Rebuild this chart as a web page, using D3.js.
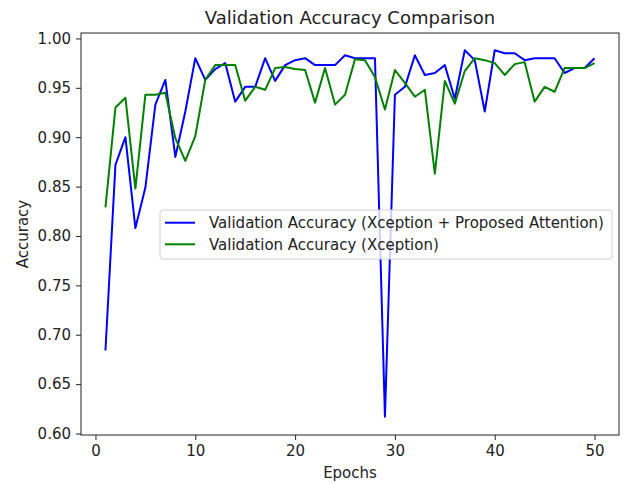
<!DOCTYPE html>
<html>
<head>
<meta charset="utf-8">
<script src="https://cdn.jsdelivr.net/npm/d3@7"></script>
<style>
  body { margin: 0; background: #fff; }
  svg { display: block; font-family: "DejaVu Sans", sans-serif; }
</style>
</head>
<body>
<div id="chart"></div>
<script>
const epochs = d3.range(1, 51);
// Xception + Proposed Attention
const attentionAcc = [
  0.684, 0.872, 0.900, 0.808, 0.849, 0.933, 0.958, 0.880, 0.926, 0.980,
  0.958, 0.969, 0.975, 0.936, 0.951, 0.951, 0.980, 0.957, 0.973, 0.978,
  0.980, 0.973, 0.973, 0.973, 0.983, 0.980, 0.980, 0.980, 0.617, 0.943,
  0.951, 0.983, 0.963, 0.965, 0.973, 0.939, 0.988, 0.978, 0.926, 0.988,
  0.985, 0.985, 0.978, 0.980, 0.980, 0.980, 0.965, 0.970, 0.970, 0.980
];
// Xception
const xceptionAcc = [
  0.829, 0.930, 0.940, 0.848, 0.943, 0.943, 0.945, 0.899, 0.876, 0.901,
  0.958, 0.973, 0.973, 0.973, 0.937, 0.951, 0.948, 0.970, 0.971, 0.969,
  0.968, 0.935, 0.970, 0.933, 0.943, 0.979, 0.978, 0.961, 0.928, 0.968,
  0.955, 0.941, 0.948, 0.863, 0.957, 0.934, 0.967, 0.980, 0.978, 0.975,
  0.963, 0.974, 0.976, 0.936, 0.951, 0.946, 0.970, 0.970, 0.970, 0.975
];
const xTicks = [0, 10, 20, 30, 40, 50];
const yTicks = [0.60, 0.65, 0.70, 0.75, 0.80, 0.85, 0.90, 0.95, 1.00];
const seriesNames = [
  "Validation Accuracy (Xception + Proposed Attention)",
  "Validation Accuracy (Xception)"
];
const seriesColors = ["#0000ff", "#008000"];

const W = 625, H = 483;
const M = {top: 33, right: 6, bottom: 48, left: 81};
const textColor = "#222";
const fs = "15px";

const svg = d3.select("#chart").append("svg")
  .attr("width", W).attr("height", H);

const x = d3.scaleLinear().domain([-1.45, 52.45]).range([M.left, W - M.right]);
const y = d3.scaleLinear().domain([0.5985, 1.0055]).range([H - M.bottom, M.top]);

// axes
const xAxis = svg.append("g")
  .attr("transform", `translate(0,${H - M.bottom})`)
  .call(d3.axisBottom(x).tickValues(xTicks).tickSize(5).tickPadding(5).tickFormat(d3.format("d")));
const yAxis = svg.append("g")
  .attr("transform", `translate(${M.left},0)`)
  .call(d3.axisLeft(y).tickValues(yTicks).tickSize(5).tickPadding(5).tickFormat(d3.format(".2f")));
[xAxis, yAxis].forEach(g => {
  g.select(".domain").remove();
  g.selectAll(".tick line").attr("stroke", textColor).attr("stroke-width", 1);
  g.selectAll(".tick text").attr("fill", textColor).style("font-size", fs)
    .style("font-family", "DejaVu Sans, sans-serif");
});

// lines
const line = d3.line().x((d, i) => x(epochs[i])).y(d => y(d));
[attentionAcc, xceptionAcc].forEach((vals, k) => {
  svg.append("path")
    .datum(vals)
    .attr("fill", "none")
    .attr("stroke", seriesColors[k])
    .attr("stroke-width", 2)
    .attr("stroke-linejoin", "round")
    .attr("d", line);
});

// frame
svg.append("rect")
  .attr("x", M.left).attr("y", M.top)
  .attr("width", W - M.right - M.left).attr("height", H - M.bottom - M.top)
  .attr("fill", "none").attr("stroke", textColor).attr("stroke-width", 1);

// title and labels
svg.append("text")
  .attr("x", (M.left + W - M.right) / 2).attr("y", 24)
  .attr("text-anchor", "middle").attr("fill", textColor)
  .style("font-size", "18px")
  .text("Validation Accuracy Comparison");
svg.append("text")
  .attr("x", (M.left + W - M.right) / 2).attr("y", 478)
  .attr("text-anchor", "middle").attr("fill", textColor)
  .style("font-size", fs)
  .text("Epochs");
svg.append("text")
  .attr("transform", `translate(28,${(M.top + H - M.bottom) / 2}) rotate(-90)`)
  .attr("text-anchor", "middle").attr("fill", textColor)
  .style("font-size", fs)
  .text("Accuracy");

// legend
const lg = svg.append("g").attr("transform", "translate(160,210)");
lg.append("rect")
  .attr("width", 452).attr("height", 49).attr("rx", 3)
  .attr("fill", "rgba(255,255,255,0.8)").attr("stroke", "#d0d0d0");
seriesNames.forEach((name, i) => {
  const cy = 12.7 + i * 21.6;
  lg.append("line")
    .attr("x1", 5).attr("x2", 35).attr("y1", cy).attr("y2", cy)
    .attr("stroke", seriesColors[i]).attr("stroke-width", 2);
  lg.append("text")
    .attr("x", 49).attr("y", cy).attr("dy", "0.35em")
    .attr("fill", textColor).style("font-size", fs)
    .text(name);
});
</script>
</body>
</html>
